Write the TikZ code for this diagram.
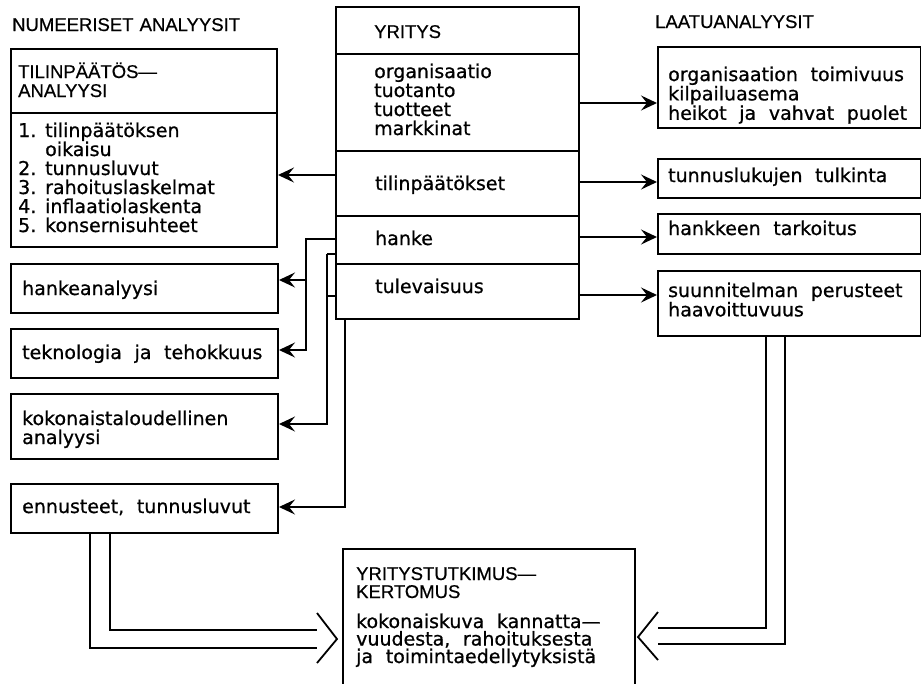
\documentclass[tikz,border=0pt]{standalone}
\usepackage{fontspec}
\setmainfont{DejaVu Sans}[FakeBold=0.8]
\newfontfamily\capsfont{Liberation Sans}[FakeBold=0.6]
\usetikzlibrary{arrows.meta}
\begin{document}
\begin{tikzpicture}[x=1pt,y=-1pt,
  box/.style={draw,line width=2pt,inner sep=0pt,anchor=north west},
  lc/.style={anchor=base west,inner sep=0pt,align=left,text width=#1,
    font=\fontsize{19}{19}\selectfont},
  lc/.default=260pt,
  uc/.style={anchor=base west,inner sep=0pt,align=left,text width=#1,
    font=\capsfont\fontsize{18.5}{19}\selectfont},
  uc/.default=260pt,
  arr/.style={line width=2pt,-{Stealth[length=16pt,width=15pt,inset=6pt]}},
  conn/.style={line width=2pt},
  dbl/.style={line width=1.8pt}
]
\useasboundingbox (0,0) rectangle (921,683);
\clip (0,0) rectangle (921,683);

% headings
\node[uc] (numhead) at (12,31) {NUMEERISET ANALYYSIT};
\node[uc] (qualhead) at (655,28) {LAATUANALYYSIT};

% central column: the company and its rows
\node[box,minimum width=243pt,minimum height=47pt] (yr)  at (335,6) {};
\node[box,minimum width=243pt,minimum height=97pt] (org) at (335,53) {};
\node[box,minimum width=243pt,minimum height=65pt] (til) at (335,150) {};
\node[box,minimum width=243pt,minimum height=48pt] (han) at (335,215) {};
\node[box,minimum width=243pt,minimum height=55pt] (tul) at (335,263) {};
\node[uc] (yrT) at (374,38) {YRITYS};
\node[lc] (orgT) at (374,78) {organisaatio\\tuotanto\\tuotteet\\markkinat};
\node[lc] (tilT) at (375,190) {tilinpäätökset};
\node[lc] (hanT) at (375,245) {hanke};
\node[lc] (tulT) at (375,293) {tulevaisuus};

% numerical analyses (left)
\node[box,minimum width=266pt,minimum height=64pt] (tph) at (10,48) {};
\node[box,minimum width=266pt,minimum height=134pt] (tpl) at (10,112) {};
\node[uc] (tphT) at (18,78) {TILINPÄÄTÖS—\\ANALYYSI};
\node[lc] (tplT) at (18,137) {\makebox[27pt][l]{1.}tilinpäätöksen\\
  \hspace*{27pt}oikaisu\\
  \makebox[27pt][l]{2.}tunnusluvut\\
  \makebox[27pt][l]{3.}rahoituslaskelmat\\
  \makebox[27pt][l]{4.}inflaatiolaskenta\\
  \makebox[27pt][l]{5.}konsernisuhteet};
\node[box,minimum width=267pt,minimum height=49pt] (ha)  at (10,263) {};
\node[box,minimum width=267pt,minimum height=49pt] (tek) at (10,328) {};
\node[box,minimum width=267pt,minimum height=65pt] (kok) at (10,393) {};
\node[box,minimum width=267pt,minimum height=49pt] (enn) at (10,483) {};
\node[lc] (haT)  at (22,295) {hankeanalyysi};
\node[lc] (tekT) at (22,359) {teknologia\ \ ja\ \ tehokkuus};
\node[lc] (kokT) at (22,425) {kokonaistaloudellinen\\analyysi};
\node[lc] (ennT) at (22,513) {ennusteet,\ \ tunnusluvut};

% quality analyses (right)
\node[box,minimum width=263pt,minimum height=81pt] (r1) at (657,46) {};
\node[box,minimum width=263pt,minimum height=39pt] (r2) at (657,158) {};
\node[box,minimum width=263pt,minimum height=40pt] (r3) at (657,213) {};
\node[box,minimum width=263pt,minimum height=65pt] (r4) at (657,270) {};
\node[lc,font=\fontsize{19}{17}\selectfont] (r1T) at (668,81)
  {organisaation\ \ toimivuus\\kilpailuasema\\heikot\ \ ja\ \ vahvat\ \ puolet};
\node[lc] (r2T) at (668,182) {tunnuslukujen\ \ tulkinta};
\node[lc] (r3T) at (668,235) {hankkeen\ \ tarkoitus};
\node[lc,font=\fontsize{19}{17}\selectfont] (r4T) at (668,297)
  {suunnitelman\ \ perusteet\\haavoittuvuus};

% final report
\node[box,minimum width=292pt,minimum height=150pt] (kert) at (342,548) {};
\node[uc,font=\capsfont\fontsize{18.5}{18}\selectfont] (kertH) at (356,580)
  {YRITYSTUTKIMUS—\\KERTOMUS};
\node[lc,font=\fontsize{19}{17.5}\selectfont] (kertT) at (356,628)
  {kokonaiskuva\ \ kannatta—\\vuudesta,\ \ rahoituksesta\\ja\ \ toimintaedellytyksistä};

% connectors to the right
\draw[arr] (org.east |- 0,103) -- (r1.west |- 0,103);
\draw[arr] (til.east |- 0,182) -- (r2.west |- 0,182);
\draw[arr] (han.east |- 0,237) -- (r3.west |- 0,237);
\draw[arr] (tul.east |- 0,295) -- (r4.west |- 0,295);

% connectors to the left
\draw[arr] (til.west |- 0,175) -- (tpl.east |- 0,175);
\coordinate (hjoin) at (306,280);
\draw[arr] (han.west |- 0,239) -| (306,350) -- (tek.east |- 0,350);
\draw[arr] (hjoin) -- (ha.east |- hjoin);
\coordinate (kjoin) at (327,254);
\draw[conn] (han.west |- kjoin) -- (kjoin);
\draw[conn] (tul.west |- 0,296) -- (327,296);
\draw[arr] (kjoin) |- (kok.east |- 0,424);
\draw[arr] (tul.south -| 345,0) |- (enn.east |- 0,507);

% double-line arrows into the report
\coordinate (lA) at (317,613);
\coordinate (lTip) at (337,639);
\coordinate (lB) at (317,663);
\draw[dbl] (enn.south -| 90,0) |- (317,648);
\draw[dbl] (enn.south -| 110,0) |- (317,630);
\draw[dbl,line join=miter] (lA) -- (lTip) -- (lB);

\coordinate (rA) at (658,612);
\coordinate (rTip) at (638,637);
\coordinate (rB) at (658,660);
\draw[dbl] (r4.south -| 766,0) |- (658,628);
\draw[dbl] (r4.south -| 785,0) |- (658,644);
\draw[dbl,line join=miter] (rA) -- (rTip) -- (rB);
\end{tikzpicture}
\end{document}
